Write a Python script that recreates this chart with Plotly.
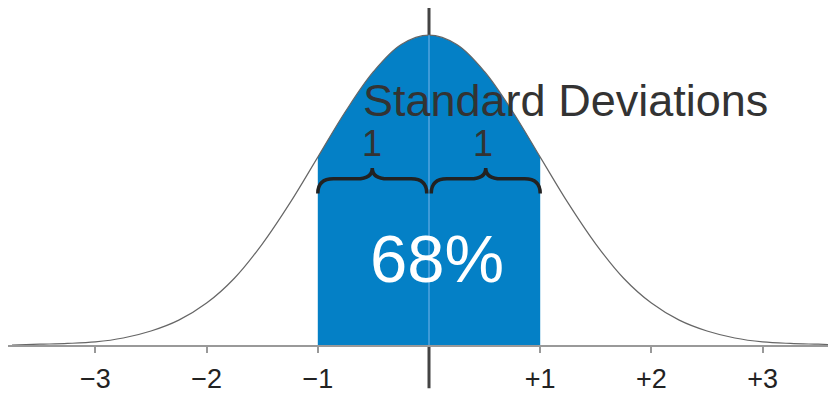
import plotly.graph_objects as go

# curve (height of the bell at each sd step)
sd = [-3.75, -3.5, -3.25, -3.0, -2.75, -2.5, -2.25, -2.0, -1.75, -1.5, -1.25, -1.0,
      -0.75, -0.5, -0.25, 0.0, 0.25, 0.5, 0.75, 1.0, 1.25, 1.5, 1.75, 2.0,
      2.25, 2.5, 2.75, 3.0, 3.25, 3.5, 3.75]
height = [0.000, 0.001, 0.002, 0.004, 0.009, 0.018, 0.032, 0.054, 0.086, 0.130, 0.183, 0.242,
          0.301, 0.352, 0.387, 0.399, 0.387, 0.352, 0.301, 0.242, 0.183, 0.130, 0.086, 0.054,
          0.032, 0.018, 0.009, 0.004, 0.002, 0.001, 0.000]

tick_vals = [-3, -2, -1, 1, 2, 3]
tick_text = ["\u22123", "\u22122", "\u22121", "+1", "+2", "+3"]

band = [-1, 1]
band_label = "68%"
brace_labels = ["1", "1"]

blue = "#0480C6"
inside_x = [x for x in sd if band[0] <= x <= band[1]]
inside_y = [y for x, y in zip(sd, height) if band[0] <= x <= band[1]]
peak = max(height)

fig = go.Figure()
fig.add_trace(go.Scatter(x=inside_x, y=inside_y, mode="lines", fill="tozeroy",
                         fillcolor=blue, line=dict(color=blue, width=0, shape="spline"),
                         hoverinfo="skip"))
fig.add_trace(go.Scatter(x=sd, y=height, mode="lines",
                         line=dict(color="#666666", width=1.2, shape="spline")))
# light line through the middle of the blue area
fig.add_trace(go.Scatter(x=[0, 0], y=[0, peak], mode="lines",
                         line=dict(color="#3E9BD8", width=2)))

# dark center line (from top of page to below the axis)
fig.add_shape(type="line", xref="x", yref="paper", x0=0, x1=0, y0=-0.128, y1=1,
              line=dict(color="#444444", width=3), layer="below")


def brace(x0, x1, yb, ym, yt, w):
    xc = (x0 + x1) / 2
    return (f"M {x0},{yb} Q {x0},{ym} {x0 + w},{ym} L {xc - w},{ym} "
            f"Q {xc},{ym} {xc},{yt} Q {xc},{ym} {xc + w},{ym} "
            f"L {x1 - w},{ym} Q {x1},{ym} {x1},{yb}")


for a, b in [(band[0], -0.02), (0.02, band[1])]:
    fig.add_shape(type="path", xref="x", yref="y",
                  path=brace(a, b, 0.195, 0.214, 0.228, 0.14),
                  line=dict(color="#222222", width=3.5))

fig.add_annotation(x=1.23, y=0.315, text="Standard Deviations", showarrow=False,
                   font=dict(size=45, color="#333333", family="Liberation Sans"))
for xl, t in zip([-0.51, 0.49], brace_labels):
    fig.add_annotation(x=xl, y=0.259, text=t, showarrow=False,
                       font=dict(size=36, color="#333333", family="Liberation Sans"))
fig.add_annotation(x=0.072, y=0.112, text=band_label, showarrow=False,
                   font=dict(size=67, color="white", family="Liberation Sans"))

fig.update_layout(
    width=828, height=386,
    margin=dict(l=0, r=0, t=0, b=49),
    paper_bgcolor="white", plot_bgcolor="white",
    showlegend=False,
    xaxis=dict(range=[-3.786, 3.66], showgrid=False, zeroline=False,
               showline=True, linecolor="#999999", linewidth=2,
               ticks="outside", ticklen=6, tickwidth=2, tickcolor="#999999",
               tickvals=tick_vals, ticktext=tick_text, ticklabelstandoff=3,
               tickfont=dict(size=27, color="#222222", family="Liberation Sans")),
    yaxis=dict(range=[0, 0.434], visible=False),
)

fig.write_html("out.html")
